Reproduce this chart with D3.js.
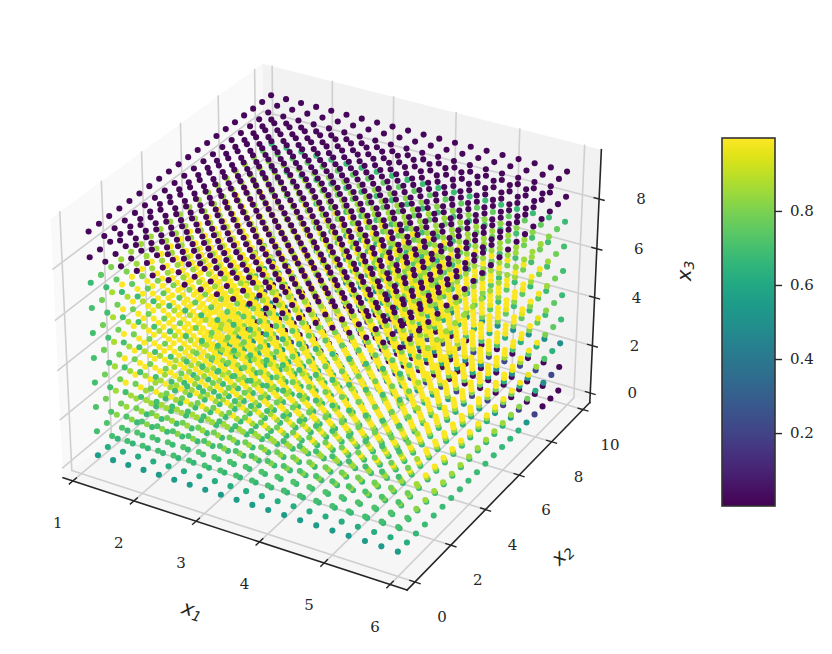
<!DOCTYPE html>
<html>
<head>
<meta charset="utf-8">
<script src="https://cdn.jsdelivr.net/npm/d3@7"></script>
<style>
  html, body { margin: 0; padding: 0; background: #fff; }
  svg { display: block; }
  text { font-family: "DejaVu Serif", serif; fill: #262626; font-size: 15px; }
  .axlabel { font-family: "DejaVu Sans", sans-serif; font-style: italic; font-size: 20px; }
</style>
</head>
<body>
<script>
var x1Values = [1.08, 1.33, 1.58, 1.83, 2.08, 2.33, 2.58, 2.83, 3.08, 3.33, 3.58, 3.83, 4.08, 4.33, 4.58, 4.83, 5.08, 5.33, 5.58, 5.83];
var x2Values = [0.6, 1.1, 1.6, 2.1, 2.6, 3.1, 3.6, 4.1, 4.6, 5.1, 5.6, 6.1, 6.6, 7.1, 7.6, 8.1, 8.6, 9.1, 9.6, 10.1];
var x3Values = [0, 1, 2, 3, 4, 5, 6, 7, 8, 9];

// colour value read per x3 layer, one entry per x2 (the layers barely change along x1)
var layer0 = [.55, .62, .66, .68, .68, .68, .68, .68, .68, .68, .68, .68, .67, .66, .64, .54, .20, .02, .02, .02];
var layer1 = [.70, .72, .82, .85, .85, .85, .85, .85, .85, .85, .85, .85, .85, .84, .82, .78, .62, .50, .22, .02];
var layer2 = [.72, .78, .86, .99, .99, .99, .99, .99, .99, .99, .99, .99, .99, .99, .98, .96, .85, .72, .64, .50];
var layer3 = [.70, .78, .86, .99, .99, .99, .99, .99, .99, .99, .99, .99, .99, .99, .99, .98, .98, .80, .75, .68];
var layer4 = [.70, .78, .87, .99, .99, .99, .99, .99, .99, .99, .99, .99, .99, .99, .99, .99, .96, .82, .75, .68];
var layer5 = [.70, .78, .87, .99, .99, .99, .99, .99, .99, .99, .99, .99, .99, .99, .99, .99, .98, .85, .78, .70];
var layer6 = [.70, .78, .87, .99, .99, .99, .99, .99, .99, .99, .99, .99, .99, .99, .99, .99, .98, .85, .78, .70];
var layer7 = [.68, .75, .80, .85, .85, .85, .85, .85, .85, .85, .85, .85, .85, .85, .85, .85, .85, .82, .76, .68];
var layer8 = [.02, .02, .02, .02, .02, .02, .02, .02, .02, .02, .02, .02, .02, .02, .02, .02, .02, .02, .02, .02];
var layer9 = [.02, .02, .02, .02, .02, .02, .02, .02, .02, .02, .02, .02, .02, .02, .02, .02, .02, .02, .02, .02];
var layers = [layer0, layer1, layer2, layer3, layer4, layer5, layer6, layer7, layer8, layer9];

var x1Ticks = [1, 2, 3, 4, 5, 6];
var x2Ticks = [0, 2, 4, 6, 8, 10];
var x3Ticks = [0, 2, 4, 6, 8];
var barTicks = [0.2, 0.4, 0.6, 0.8];

var width = 832, height = 654;

// data -> unit box of the panes
var bx = d3.scaleLinear().domain([0.838, 6.255]).range([0, 1]);
var by = d3.scaleLinear().domain([-0.433, 10.44]).range([0, 1]);
var bz = d3.scaleLinear().domain([-0.41, 9.95]).range([0, 1]);

// projected plane -> pixels
var sx = d3.scaleLinear().domain([0, 1]).range([331.3, 331.3 + 3310]);
var sy = d3.scaleLinear().domain([0, 1]).range([314.3, 314.3 - 3310]);

var box = [1.1905, 1.1905, 0.8929];
var dist = 10;
var elev = 30 * Math.PI / 180, azim = -60 * Math.PI / 180;
var w = [Math.cos(elev) * Math.cos(azim), Math.cos(elev) * Math.sin(azim), Math.sin(elev)];
var u = [-Math.sin(azim), Math.cos(azim), 0];
var v = [w[1] * u[2] - w[2] * u[1], w[2] * u[0] - w[0] * u[2], w[0] * u[1] - w[1] * u[0]];

function dot(a, b) { return a[0] * b[0] + a[1] * b[1] + a[2] * b[2]; }

// t is in unit box coords; returns pixel position and depth
function project(tx, ty, tz) {
  var d = [(tx - 0.5) * box[0], (ty - 0.5) * box[1], (tz - 0.5) * box[2]];
  var zc = dot(d, w);
  var f = dist - zc;
  return { x: sx(dot(d, u) / f), y: sy(dot(d, v) / f), depth: zc };
}

var svg = d3.select(document.body).append("svg")
  .attr("width", width).attr("height", height);

function pathOf(pts) {
  return d3.line().x(function(p) { return p.x; }).y(function(p) { return p.y; })(pts);
}

function pane(pts, fill) {
  svg.append("path").attr("d", pathOf(pts.map(function(p) { return project(p[0], p[1], p[2]); })) + "Z")
    .attr("fill", fill);
}

pane([[0, 0, 0], [0, 1, 0], [0, 1, 1], [0, 0, 1]], "#f9f9f9");
pane([[0, 1, 0], [1, 1, 0], [1, 1, 1], [0, 1, 1]], "#f2f2f2");
pane([[0, 0, 0], [1, 0, 0], [1, 1, 0], [0, 1, 0]], "#f6f6f6");

function seg(a, b, stroke, sw) {
  var p = project(a[0], a[1], a[2]), q = project(b[0], b[1], b[2]);
  svg.append("line").attr("x1", p.x).attr("y1", p.y).attr("x2", q.x).attr("y2", q.y)
    .attr("stroke", stroke).attr("stroke-width", sw).attr("stroke-linecap", "square");
}

var gridColor = "#cfcfcf", axisColor = "#262626";

x1Ticks.forEach(function(t) {
  seg([bx(t), 0, 0], [bx(t), 1, 0], gridColor, 1.6);
  seg([bx(t), 1, 0], [bx(t), 1, 1], gridColor, 1.6);
});
x2Ticks.forEach(function(t) {
  seg([0, by(t), 0], [1, by(t), 0], gridColor, 1.6);
  seg([0, by(t), 0], [0, by(t), 1], gridColor, 1.6);
});
x3Ticks.forEach(function(t) {
  seg([0, 0, bz(t)], [0, 1, bz(t)], gridColor, 1.6);
  seg([0, 1, bz(t)], [1, 1, bz(t)], gridColor, 1.6);
});

seg([0, 0, 0], [1, 0, 0], axisColor, 1.6);
seg([1, 0, 0], [1, 1, 0], axisColor, 1.6);
seg([1, 1, 0], [1, 1, 1], axisColor, 1.6);

function tickLabel(p, dx, dy, s) {
  svg.append("text").attr("x", p.x + dx).attr("y", p.y + dy)
    .attr("text-anchor", "middle").attr("dominant-baseline", "central").text(s);
}

x1Ticks.forEach(function(t) {
  seg([bx(t), 0.016, 0], [bx(t), -0.016, 0], axisColor, 1.4);
  tickLabel(project(bx(t), 0, 0), -15, 42, t);
});
x2Ticks.forEach(function(t) {
  seg([1 - 0.014, by(t), 0], [1 + 0.014, by(t), 0], axisColor, 1.4);
  tickLabel(project(1, by(t), 0), 27, 35, t);
});
x3Ticks.forEach(function(t) {
  seg([1 - 0.014, 1, bz(t)], [1 + 0.014, 1, bz(t)], axisColor, 1.4);
  tickLabel(project(1, 1, bz(t)), 42, 0, t);
});

var color = d3.scaleSequential(d3.interpolateViridis).domain([0.003, 0.997]);

var points = [];
x1Values.forEach(function(a) {
  x2Values.forEach(function(b, j) {
    x3Values.forEach(function(c, k) {
      var p = project(bx(a), by(b), bz(c));
      p.value = layers[k][j];
      points.push(p);
    });
  });
});
points.sort(function(p, q) { return d3.ascending(p.depth, q.depth); });

svg.append("g").selectAll("circle").data(points).join("circle")
  .attr("cx", function(p) { return p.x; })
  .attr("cy", function(p) { return p.y; })
  .attr("r", 3.05)
  .attr("fill", function(p) { return color(p.value); });

function axisLabel(cx, cy, angle, main, sub) {
  var g = svg.append("g").attr("transform", "translate(" + cx + "," + cy + ") rotate(" + angle + ")");
  var t = g.append("text").attr("class", "axlabel").attr("text-anchor", "middle").attr("dominant-baseline", "central");
  t.append("tspan").text(main);
  t.append("tspan").attr("dy", 5).style("font-size", "14px").text(sub);
}

var mx1 = project(0.5, 0, 0), mx2 = project(1, 0.5, 0), mx3 = project(1, 1, 0.5);
axisLabel(mx1.x - 38, mx1.y + 77, 18, "x", "1");
axisLabel(mx2.x + 59, mx2.y + 62, -45, "x", "2");
axisLabel(mx3.x + 89, mx3.y - 8, -90, "x", "3");

// colour bar
var barX = 722, barW = 53, barTop = 138, barBottom = 506;
var barScale = d3.scaleLinear().domain([0.003, 0.997]).range([barBottom, barTop]);
var defs = svg.append("defs");
var grad = defs.append("linearGradient").attr("id", "vir")
  .attr("x1", 0).attr("y1", 1).attr("x2", 0).attr("y2", 0);
d3.range(0, 1.001, 0.05).forEach(function(f) {
  grad.append("stop").attr("offset", f).attr("stop-color", d3.interpolateViridis(f));
});
svg.append("rect").attr("x", barX).attr("y", barTop).attr("width", barW).attr("height", barBottom - barTop)
  .attr("fill", "url(#vir)").attr("stroke", "#333333").attr("stroke-width", 1.6);

var barAxis = d3.axisRight(barScale).tickValues(barTicks).tickSize(7).tickPadding(8).tickFormat(d3.format(".1f"));
var gb = svg.append("g").attr("transform", "translate(" + (barX + barW) + ",0)").call(barAxis);
gb.select(".domain").remove();
gb.selectAll("line").attr("stroke", "#262626").attr("stroke-width", 1.4);
gb.attr("font-family", null).attr("font-size", null);
</script>
</body>
</html>
